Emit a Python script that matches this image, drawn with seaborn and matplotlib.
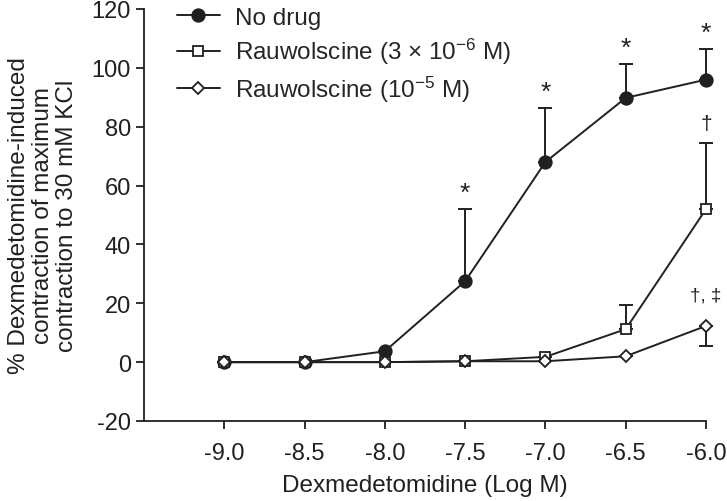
import numpy as np
import pandas as pd
import matplotlib
matplotlib.use("Agg")
import matplotlib.pyplot as plt
import seaborn as sns

# ---- data ----
log_conc = [-9.0, -8.5, -8.0, -7.5, -7.0, -6.5, -6.0]
series_names = ["No drug", "Rauwolscine (3 × 10$^{-6}$ M)", "Rauwolscine (10$^{-5}$ M)"]
no_drug = [0.0, 0.0, 3.7, 27.5, 68.0, 89.8, 96.0]
rauw_3e6 = [0.0, 0.0, 0.0, 0.3, 1.8, 11.2, 52.0]
rauw_1e5 = [0.0, 0.0, 0.0, 0.3, 0.3, 2.0, 12.3]
# one-sided SE (upper for first two, lower for third)
no_drug_err_up = [0.0, 0.0, 0.0, 24.5, 18.3, 11.4, 10.3]
rauw_3e6_err_up = [0.0, 0.0, 0.0, 0.0, 0.0, 8.2, 22.4]
rauw_1e5_err_down = [0.0, 0.0, 0.0, 0.0, 0.0, 0.0, 6.9]
star_labels = ["", "", "", "*", "*", "*", "*"]
x_ticks = [-9.0, -8.5, -8.0, -7.5, -7.0, -6.5, -6.0]
y_ticks = [-20, 0, 20, 40, 60, 80, 100, 120]

sns.set_theme(style="ticks")
plt.rcParams["font.family"] = ["Liberation Sans", "DejaVu Sans"]
plt.rcParams["mathtext.fontset"] = "custom"
plt.rcParams["mathtext.rm"] = "Liberation Sans"
plt.rcParams["mathtext.it"] = "Liberation Sans:italic"
plt.rcParams["mathtext.bf"] = "Liberation Sans:bold"
plt.rcParams["axes.unicode_minus"] = False

df = pd.DataFrame({
    "x": log_conc * 3,
    "y": no_drug + rauw_3e6 + rauw_1e5,
    "series": [series_names[0]] * 7 + [series_names[1]] * 7 + [series_names[2]] * 7,
})

fig = plt.figure(figsize=(7.27, 5.02), dpi=100)
ax = fig.add_axes([144 / 727, 1 - 422 / 502, (706 - 144) / 727, (422 - 10) / 502])

black = "#231f20"
FS = 17.5
# error bars (drawn first)
zeros = [0.0] * 7
for yv, err in [(no_drug, [zeros, no_drug_err_up]),
                (rauw_3e6, [zeros, rauw_3e6_err_up]),
                (rauw_1e5, [rauw_1e5_err_down, zeros])]:
    eb = ax.errorbar(log_conc, yv, yerr=err, fmt="none",
                     ecolor=black, elinewidth=1.4, capsize=5, capthick=1.4, zorder=1)
    for art in eb.lines[1] + eb.lines[2]:
        art.set_clip_on(False)

markers = {series_names[0]: "o", series_names[1]: "s", series_names[2]: "D"}
sizes = {series_names[0]: 9, series_names[1]: 6.5, series_names[2]: 6.3}
faces = {series_names[0]: black, series_names[1]: "white", series_names[2]: "white"}
for i, name in enumerate(series_names):
    sub = df[df["series"] == name]
    sns.lineplot(data=sub, x="x", y="y", ax=ax, color=black, linewidth=1.4,
                 marker=markers[name], markersize=sizes[name],
                 markerfacecolor=faces[name], markeredgecolor=black,
                 markeredgewidth=1.3, label=name, zorder=3 + i)
for ln in ax.lines:
    ln.set_clip_on(False)
for coll in ax.collections:
    coll.set_clip_on(False)

# significance marks
for xv, yv, e, s in zip(log_conc, no_drug, no_drug_err_up, star_labels):
    if s:
        ax.text(xv, yv + e + 5.5, s, ha="center", va="center", fontsize=19, color=black)
ax.text(log_conc[-1], rauw_3e6[-1] + rauw_3e6_err_up[-1] + 6.8, "†",
        ha="center", va="center", fontsize=15, color=black)
ax.text(log_conc[-1], rauw_1e5[-1] + 10.5, "†, ‡",
        ha="center", va="center", fontsize=13.5, color=black)

ax.set_xlim(-9.5, -6.0)
ax.set_ylim(-20, 120)
ax.set_xticks(x_ticks)
ax.set_xticklabels([f"{t:.1f}" for t in x_ticks])
ax.set_yticks(y_ticks)
ax.tick_params(axis="both", direction="out", length=6, width=1.3, colors=black,
               labelsize=17, labelcolor=black)
ax.tick_params(axis="x", pad=9)
for sp in ["top", "right"]:
    ax.spines[sp].set_visible(False)
for sp in ["left", "bottom"]:
    ax.spines[sp].set_linewidth(1.3)
    ax.spines[sp].set_color(black)

ax.set_xlabel("Dexmedetomidine (Log M)", fontsize=FS, color=black, labelpad=7)
ax.set_ylabel("% Dexmedetomidine-induced\ncontraction of maximum\ncontraction to 30 mM KCl",
              fontsize=FS, color=black, labelpad=10, linespacing=1.1)

leg = ax.legend(loc="upper left", bbox_to_anchor=(0.058, 1.005), frameon=False,
                fontsize=FS, handlelength=1.8, handletextpad=0.6, labelspacing=0.3,
                borderaxespad=0.0, borderpad=0.0)

fig.savefig("out.png", dpi=100)
